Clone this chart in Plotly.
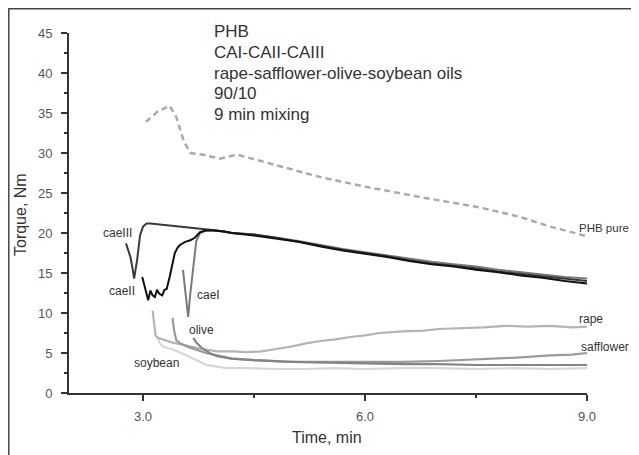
import plotly.graph_objects as go

# ---- data ----
phb_x = [3.04, 3.2, 3.36, 3.45, 3.55, 3.64, 3.8, 4.04, 4.27, 4.6, 5.0, 5.39, 6.0, 6.74, 7.55, 8.1, 8.5, 9.0]
phb_y = [33.9, 35.2, 35.9, 34.5, 31.5, 30.0, 29.8, 29.3, 29.8, 29.0, 28.0, 27.0, 25.8, 24.5, 23.2, 22.0, 20.8, 19.6]

tail_x = [4.2, 4.5, 4.8, 5.1, 5.4, 5.7, 6.0, 6.3, 6.6, 6.9, 7.2, 7.5, 7.8, 8.1, 8.4, 8.7, 9.0]

ca3_x = [2.77, 2.80, 2.83, 2.86, 2.88, 2.92, 2.96, 3.00, 3.05, 3.10, 3.2, 3.4, 3.6, 3.8, 4.0] + tail_x
ca3_y = [18.7, 17.8, 17.0, 15.5, 14.3, 16.6, 19.7, 20.8, 21.2, 21.2, 21.1, 20.9, 20.7, 20.5, 20.3,
         20.0, 19.8, 19.4, 18.9, 18.4, 17.9, 17.5, 17.1, 16.6, 16.2, 15.9, 15.6, 15.2, 14.9, 14.6, 14.3, 14.0]

ca2_x = [2.99, 3.03, 3.07, 3.10, 3.13, 3.16, 3.19, 3.22, 3.26, 3.29, 3.32, 3.36, 3.40, 3.43, 3.47, 3.50,
         3.57, 3.64, 3.70, 3.77, 3.85, 3.95, 4.1] + tail_x
ca2_y = [14.5, 13.0, 11.6, 12.8, 12.2, 12.0, 12.9, 12.4, 12.2, 12.9, 13.0, 14.5, 16.0, 17.5, 18.2, 18.5,
         18.9, 19.1, 19.4, 20.1, 20.3, 20.3, 20.2,
         20.0, 19.7, 19.3, 18.9, 18.3, 17.8, 17.4, 17.0, 16.5, 16.1, 15.8, 15.4, 15.1, 14.7, 14.4, 14.0, 13.7]

ca1_x = [3.54, 3.57, 3.61, 3.64, 3.68, 3.72, 3.77, 3.85, 3.95, 4.1] + tail_x
ca1_y = [15.4, 12.5, 9.5, 12.5, 15.8, 19.0, 20.0, 20.3, 20.3, 20.2,
         20.0, 19.8, 19.4, 19.0, 18.5, 18.0, 17.6, 17.2, 16.8, 16.4, 16.1, 15.8, 15.4, 15.1, 14.8, 14.5, 14.3]

rape_x = [3.13, 3.15, 3.17, 3.2, 3.3, 3.4, 3.5, 3.65, 3.8, 4.0, 4.2, 4.4, 4.6, 4.8, 5.0, 5.2, 5.4, 5.6,
          5.8, 6.0, 6.2, 6.5, 6.8, 7.0, 7.3, 7.6, 7.9, 8.2, 8.5, 8.8, 9.0]
rape_y = [10.3, 8.5, 7.2, 6.9, 6.6, 6.3, 6.1, 5.8, 5.5, 5.2, 5.2, 5.1, 5.2, 5.5, 5.8, 6.2, 6.5, 6.7,
          7.0, 7.2, 7.5, 7.7, 7.8, 8.0, 8.1, 8.2, 8.4, 8.3, 8.4, 8.2, 8.3]

saff_x = [3.40, 3.42, 3.45, 3.5, 3.6, 3.7, 3.85, 4.0, 4.2, 4.5, 4.8, 5.0, 5.5, 6.0, 6.5, 7.0, 7.5, 8.0, 8.5, 8.8, 9.0]
saff_y = [9.4, 7.8, 6.6, 6.2, 5.8, 5.5, 5.0, 4.7, 4.3, 4.1, 4.0, 3.9, 3.9, 3.9, 3.9, 4.0, 4.2, 4.4, 4.7, 4.8, 5.0]

olive_x = [3.68, 3.72, 3.8, 3.9, 4.0, 4.2, 4.5, 5.0, 5.5, 6.0, 6.5, 7.0, 7.5, 8.0, 8.5, 9.0]
olive_y = [6.9, 6.3, 5.6, 5.0, 4.6, 4.3, 4.1, 3.9, 3.8, 3.7, 3.6, 3.6, 3.5, 3.5, 3.5, 3.5]

soy_x = [3.20, 3.23, 3.27, 3.41, 3.59, 3.75, 3.86, 4.0, 4.14, 4.4, 4.8, 5.2, 5.6, 6.0, 6.5, 7.0, 7.5, 8.0, 8.5, 9.0]
soy_y = [6.9, 6.2, 5.8, 5.4, 4.7, 4.0, 3.5, 3.3, 3.1, 3.1, 3.0, 3.0, 3.1, 3.0, 3.1, 3.1, 3.0, 3.1, 3.0, 3.1]

x_ticks = [3, 6, 9]
x_tick_text = ["3.0", "6.0", "9.0"]

info_lines = ["PHB", "CAI-CAII-CAIII", "rape-safflower-olive-soybean oils", "90/10", "9 min mixing"]

FONT = "Liberation Sans, Arial, sans-serif"
X_RANGE = [2, 9]
Y_RANGE = [0, 45]

# figure geometry (page has 8px body margin)
W, H = 623, 447
ML, MR, MT, MB = 61, 44, 25, 62
PW, PH = W - ML - MR, H - MT - MB


def px_to_paper_x(px):   # window px
    return (px - 8 - ML) / PW


def px_to_paper_y(py):   # window px
    return (H - MB - (py - 8)) / PH


fig = go.Figure()


def add(x, y, color, width=2.0, dash=None):
    fig.add_trace(go.Scatter(x=x, y=y, mode="lines",
                             line=dict(color=color, width=width, dash=dash, shape="linear"),
                             showlegend=False, hoverinfo="skip"))


add(phb_x, phb_y, "#aaaaaa", 2.5, "6px,4px")
add(soy_x, soy_y, "#d6d6d6", 2.2)
add(rape_x, rape_y, "#b4b4b4", 2.2)
add(saff_x, saff_y, "#9a9a9a", 2.2)
add(olive_x, olive_y, "#858585", 2.2)
add(ca1_x, ca1_y, "#7a7a7a", 2.0)
add(ca3_x, ca3_y, "#3a3a3a", 2.0)
add(ca2_x, ca2_y, "#111111", 2.0)

# curve labels (positions in data units; placed via paper coords so ones beyond x=9 still show)
labels = [
    ("caeIII", 2.66, 20.0, "center"), ("caeII", 2.72, 12.75, "center"), ("caeI", 3.885, 12.25, "center"),
    ("olive", 3.79, 7.9, "center"), ("soybean", 3.18, 3.75, "center"), ("rape", 9.05, 9.25, "center"),
    ("safflower", 9.24, 5.75, "center"), ("PHB pure", 9.60, 20.6, "right"),
]
for t, x, y, anc in labels:
    fig.add_annotation(x=(x - X_RANGE[0]) / (X_RANGE[1] - X_RANGE[0]),
                       y=(y - Y_RANGE[0]) / (Y_RANGE[1] - Y_RANGE[0]),
                       text=t, showarrow=False, xref="paper", yref="paper",
                       xanchor=anc, yanchor="middle",
                       font=dict(family=FONT, size=11.5 if t == "PHB pure" else 12, color="#333333"))

for i, t in enumerate(info_lines):
    fig.add_annotation(x=px_to_paper_x(212), y=px_to_paper_y(31 + 21 * i), xref="paper", yref="paper",
                       text=t, showarrow=False, xanchor="left", yanchor="middle",
                       font=dict(family=FONT, size=17, color="#333333"))

fig.add_annotation(x=px_to_paper_x(327), y=px_to_paper_y(437), xref="paper", yref="paper",
                   text="Time, min", showarrow=False, xanchor="center", yanchor="middle",
                   font=dict(family=FONT, size=16, color="#333333"))
fig.add_annotation(x=px_to_paper_x(20), y=px_to_paper_y(215), xref="paper", yref="paper",
                   text="Torque, Nm", showarrow=False, textangle=-90, xanchor="center", yanchor="middle",
                   font=dict(family=FONT, size=16, color="#333333"))

# outer frame (cropped at right/bottom)
fig.add_shape(type="rect", xref="paper", yref="paper", x0=px_to_paper_x(8.8), x1=1.3,
              y0=-0.4, y1=px_to_paper_y(8.8), line=dict(color="#444444", width=1.5))

fig.update_layout(
    width=W, height=H,
    margin=dict(l=ML, r=MR, t=MT, b=MB),
    paper_bgcolor="white", plot_bgcolor="white",
    font=dict(family=FONT, size=13, color="#555555"),
    xaxis=dict(range=X_RANGE, tickvals=x_ticks, ticktext=x_tick_text, showgrid=False, zeroline=False,
               showline=True, linecolor="#333333", linewidth=2, ticks="outside", ticklen=6,
               tickwidth=2, tickcolor="#333333", tickfont=dict(size=13, color="#555555"),
               ticklabelstandoff=4,
               minor=dict(tick0=3, dtick=1.5, ticks="outside", ticklen=3, tickwidth=2, tickcolor="#333333")),
    yaxis=dict(range=Y_RANGE, dtick=5, showgrid=False, zeroline=False,
               showline=True, linecolor="#333333", linewidth=2, ticks="outside", ticklen=6,
               tickwidth=2, tickcolor="#333333", tickfont=dict(size=13, color="#555555"),
               ticklabelstandoff=6,
               minor=dict(dtick=2.5, ticks="outside", ticklen=3, tickwidth=1.5, tickcolor="#333333")),
)

fig.write_html("out.html")
